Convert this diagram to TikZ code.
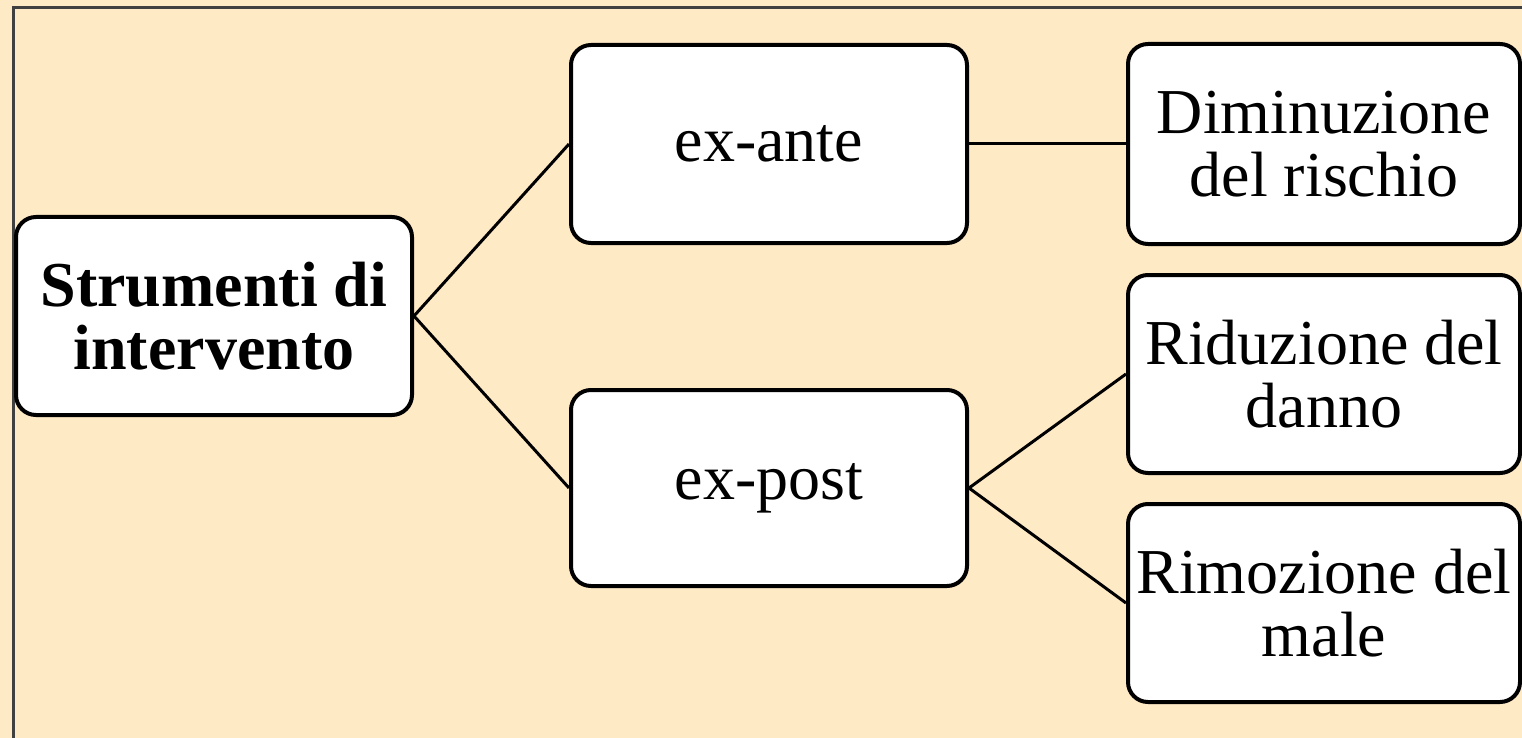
\documentclass[tikz,border=0pt]{standalone}
\usepackage{fontspec}
\setmainfont{Liberation Serif}
\definecolor{sfondo}{RGB}{255,234,198}

\begin{document}
\begin{tikzpicture}[x=0.5pt,y=-0.5pt,
  box/.style={draw, line width=2pt, fill=white, rounded corners=10pt,
    align=center, minimum width=198pt, minimum height=99pt, inner sep=0pt,
    font=\fontsize{32}{31.5}\selectfont},
  link/.style={line width=1.5pt}]
\useasboundingbox (0,0) rectangle (1522,738);
\clip (0,0) rectangle (1522,738);
\fill[sfondo] (0,0) rectangle (1522,738);
\draw[line width=1.5pt, black!75] (13,8) rectangle (1560,780);
% radice
\node[box, font=\fontsize{32}{31.5}\selectfont\bfseries] (strumenti) at (214,316) {Strumenti di\\intervento};
% secondo livello
\node[box] (exante) at (769,144) {ex-ante};
\node[box, minimum height=98pt] (expost) at (769,488) {ex-post};
% terzo livello
\node[box, minimum width=196pt, minimum height=100pt] (diminuzione) at (1324,144) {Diminuzione\\del rischio};
\node[box, minimum width=196pt] (riduzione) at (1324,374) {Riduzione del\\danno};
\node[box, minimum width=196pt] (rimozione) at (1324,603) {Rimozione del\\male};
% collegamenti
\draw[link] (strumenti.east) -- (exante.west);
\draw[link] (strumenti.east) -- (expost.west);
\draw[link] (exante.east) -- (diminuzione.west);
\draw[link] (expost.east) -- (riduzione.west);
\draw[link] (expost.east) -- (rimozione.west);
\end{tikzpicture}
\end{document}
